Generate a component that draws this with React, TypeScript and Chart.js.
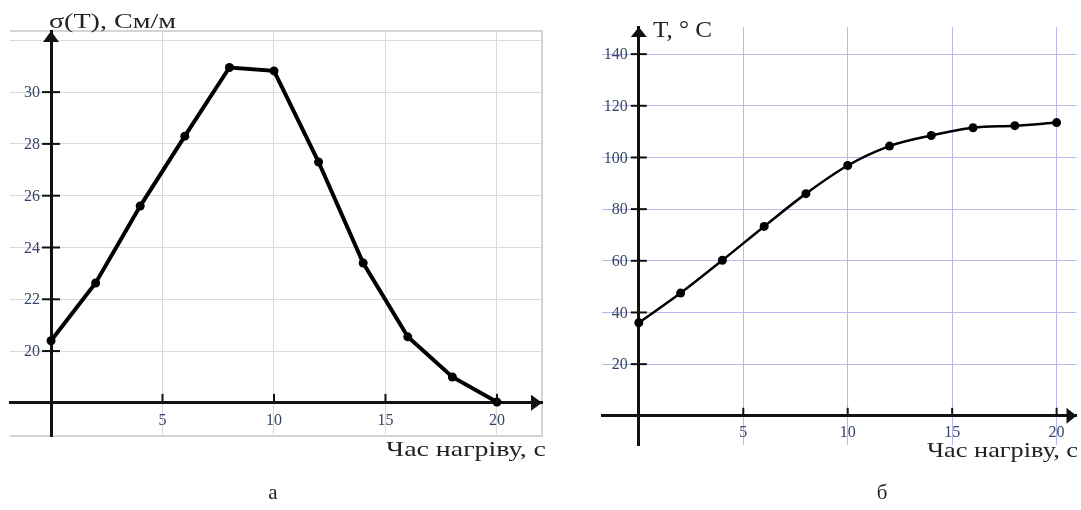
import React, { useEffect, useRef } from 'react';
import { Chart, registerables } from 'chart.js';

Chart.register(...registerables);

// ---- data ----
const timeSec = [0, 2, 4, 6, 8, 10, 12, 14, 16, 18, 20];
const sigmaValues = [20.4, 22.63, 25.6, 28.3, 30.95, 30.82, 27.3, 23.4, 20.55, 19.0, 18.03];
const tempValues = [36, 47.5, 60.2, 73.3, 86, 96.9, 104.4, 108.5, 111.5, 112.3, 113.5];

const xTickValues = [5, 10, 15, 20];
const xTickLabels = ['5', '10', '15', '20'];
const sigmaTickValues = [20, 22, 24, 26, 28, 30, 32];
const sigmaTickLabels = ['20', '22', '24', '26', '28', '30', ''];
const tempTickValues = [20, 40, 60, 80, 100, 120, 140];
const tempTickLabels = ['20', '40', '60', '80', '100', '120', '140'];

const sigmaTitle = 'σ(T), См/м';
const tempTitle = 'T, ° C';
const timeTitle = 'Час нагріву, с';
const panelA = 'а';
const panelB = 'б';

const SERIF = '"Liberation Serif", "DejaVu Serif", serif';
const LABEL_COLOR = '#34446a';

type TextItem = { text: string; x: number; y: number; size: number; width?: number; align?: 'left' | 'center' };

const decorPlugin = {
  id: 'decor',
  beforeDraw(chart: any, _args: any, opts: any) {
    const { ctx, chartArea } = chart;
    ctx.save();
    ctx.fillStyle = '#ffffff';
    ctx.fillRect(0, 0, chart.width, chart.height);
    if (opts.frame) {
      ctx.strokeStyle = opts.frame;
      ctx.lineWidth = 2;
      ctx.beginPath();
      ctx.moveTo(chartArea.left, chartArea.top);
      ctx.lineTo(chartArea.right, chartArea.top);
      ctx.lineTo(chartArea.right, chartArea.bottom);
      ctx.lineTo(chartArea.left, chartArea.bottom);
      ctx.stroke();
    }
    ctx.restore();
  },
  afterDraw(chart: any, _args: any, opts: any) {
    const { ctx, chartArea } = chart;
    const xs = chart.scales.x;
    const ys = chart.scales.y;
    const ax = xs.getPixelForValue(0);
    const ay = ys.getPixelForValue(opts.xAxisAt);
    ctx.save();
    ctx.strokeStyle = '#111';
    ctx.fillStyle = '#111';
    ctx.lineWidth = 2;
    // y tick marks crossing the axis + y tick labels (from the scale's ticks)
    ys.ticks.forEach((t: any) => {
      const py = ys.getPixelForValue(t.value);
      if (!(opts.skipY && opts.skipY.includes(t.value))) {
        ctx.strokeStyle = '#111';
        ctx.beginPath();
        ctx.moveTo(ax - opts.tickHalf, py);
        ctx.lineTo(ax + opts.tickHalf, py);
        ctx.stroke();
      }
      if (t.label) {
        ctx.font = `${opts.labelSize}px ${SERIF}`;
        ctx.fillStyle = LABEL_COLOR;
        ctx.textAlign = 'right';
        ctx.textBaseline = 'middle';
        ctx.fillText(String(t.label), ax - opts.labelGap, py + 1);
      }
    });
    // x tick marks above the axis
    ctx.strokeStyle = '#111';
    xs.ticks.forEach((t: any) => {
      const px = xs.getPixelForValue(t.value);
      ctx.beginPath();
      ctx.moveTo(px, ay);
      ctx.lineTo(px, ay - opts.xTickLen);
      ctx.stroke();
    });
    // arrows
    ctx.fillStyle = '#111';
    const L = opts.arrowLen, H = opts.arrowHalf;
    ctx.beginPath();
    ctx.moveTo(ax, chartArea.top);
    ctx.lineTo(ax - H, chartArea.top + L);
    ctx.lineTo(ax + H, chartArea.top + L);
    ctx.closePath();
    ctx.fill();
    ctx.beginPath();
    ctx.moveTo(chartArea.right, ay);
    ctx.lineTo(chartArea.right - L, ay - H);
    ctx.lineTo(chartArea.right - L, ay + H);
    ctx.closePath();
    ctx.fill();
    // texts
    ctx.fillStyle = '#222';
    ctx.textBaseline = 'alphabetic';
    (opts.texts as TextItem[]).forEach((t) => {
      ctx.font = `${t.size}px ${SERIF}`;
      const w = ctx.measureText(t.text).width;
      const sx = t.width ? t.width / w : 1;
      ctx.save();
      let left = t.x;
      if (t.align === 'center') left = t.x - (w * sx) / 2;
      ctx.translate(left, t.y);
      ctx.scale(sx, 1);
      ctx.textAlign = 'left';
      ctx.fillText(t.text, 0, 0);
      ctx.restore();
    });
    ctx.restore();
  },
};

function makeConfig(p: any): any {
  return {
    type: 'line',
    data: {
      datasets: [
        {
          data: timeSec.map((t, i) => ({ x: t, y: p.values[i] })),
          borderColor: '#000',
          backgroundColor: '#000',
          borderWidth: p.lineWidth,
          pointRadius: p.pointRadius,
          pointBackgroundColor: '#000',
          pointBorderWidth: 0,
          tension: p.tension,
          cubicInterpolationMode: p.cubic ? 'monotone' : 'default',
          fill: false,
        },
      ],
    },
    options: {
      animation: false,
      responsive: false,
      devicePixelRatio: 1,
      layout: { padding: p.padding },
      plugins: {
        legend: { display: false },
        tooltip: { enabled: false },
        title: { display: false },
        decor: p.decor,
      },
      scales: {
        x: {
          type: 'linear',
          min: p.xMin,
          max: p.xMax,
          position: { y: p.xAxisAt },
          afterBuildTicks: (s: any) => {
            s.ticks = xTickValues.map((v) => ({ value: v }));
          },
          grid: { color: p.gridColor, lineWidth: 1, drawTicks: false },
          border: { display: true, color: '#111', width: 3 },
          ticks: {
            padding: p.xPad,
            color: LABEL_COLOR,
            font: { family: SERIF, size: p.tickSize },
            maxRotation: 0,
            autoSkip: false,
            callback: (_v: any, i: number) => xTickLabels[i],
          },
        },
        y: {
          type: 'linear',
          min: p.yMin,
          max: p.yMax,
          position: { x: 0 },
          afterBuildTicks: (s: any) => {
            s.ticks = p.yTicks.map((v: number) => ({ value: v }));
          },
          grid: { color: p.gridColor, lineWidth: 1, drawTicks: false },
          border: { display: true, color: '#111', width: 3 },
          ticks: {
            display: false,
            autoSkip: false,
            font: { family: SERIF, size: p.tickSize },
            callback: (_v: any, i: number) => p.yLabels[i],
          },
        },
      },
    },
    plugins: [decorPlugin],
  };
}

function Panel(props: { left: number; width: number; config: any }) {
  const ref = useRef<HTMLCanvasElement | null>(null);
  useEffect(() => {
    if (!ref.current) return;
    const chart = new Chart(ref.current, props.config);
    return () => chart.destroy();
  }, []);
  return (
    <canvas
      ref={ref}
      width={props.width}
      height={510}
      style={{ position: 'absolute', left: props.left, top: 0, width: props.width, height: 510 }}
    />
  );
}

const configA = makeConfig({
  values: sigmaValues,
  lineWidth: 4,
  pointRadius: 4.5,
  tension: 0,
  cubic: false,
  padding: { left: 10, top: 31, right: 18, bottom: 74 },
  xMin: -1.84,
  xMax: 22.02,
  yMin: 16.72,
  yMax: 32.36,
  xAxisAt: 18,
  yTicks: sigmaTickValues,
  yLabels: sigmaTickLabels,
  gridColor: '#dadada',
  tickSize: 16,
  xPad: 8,
  decor: {
    frame: '#d4d4d4',
    xAxisAt: 18,
    skipY: [32],
    tickHalf: 9,
    xTickLen: 9,
    arrowLen: 11,
    arrowHalf: 8,
    labelSize: 16,
    labelGap: 11,
    texts: [
      { text: sigmaTitle, x: 49, y: 28, size: 21, width: 127 },
      { text: timeTitle, x: 386, y: 456, size: 21, width: 160 },
      { text: panelA, x: 273, y: 499, size: 21, align: 'center' },
    ],
  },
});

const configB = makeConfig({
  values: tempValues,
  lineWidth: 2.5,
  pointRadius: 4.5,
  tension: 0.4,
  cubic: true,
  padding: { left: 42, top: 27, right: 2, bottom: 65 },
  xMin: -1.762,
  xMax: 20.952,
  yMin: -11.3,
  yMax: 150.5,
  xAxisAt: 0,
  yTicks: tempTickValues,
  yLabels: tempTickLabels,
  gridColor: '#b8b8ee',
  tickSize: 16,
  xPad: 7,
  decor: {
    frame: null,
    xAxisAt: 0,
    skipY: [],
    tickHalf: 8,
    xTickLen: 8,
    arrowLen: 10,
    arrowHalf: 8,
    labelSize: 16,
    labelGap: 11,
    texts: [
      { text: tempTitle, x: 93, y: 37, size: 23, width: 59 },
      { text: timeTitle, x: 367, y: 457, size: 21, width: 151 },
      { text: panelB, x: 322, y: 499, size: 21, align: 'center' },
    ],
  },
});

export default function App() {
  return (
    <div style={{ position: 'absolute', left: 0, top: 0, width: 1081, height: 510, background: '#fff', overflow: 'hidden' }}>
      <Panel left={0} width={560} config={configA} />
      <Panel left={560} width={521} config={configB} />
    </div>
  );
}
